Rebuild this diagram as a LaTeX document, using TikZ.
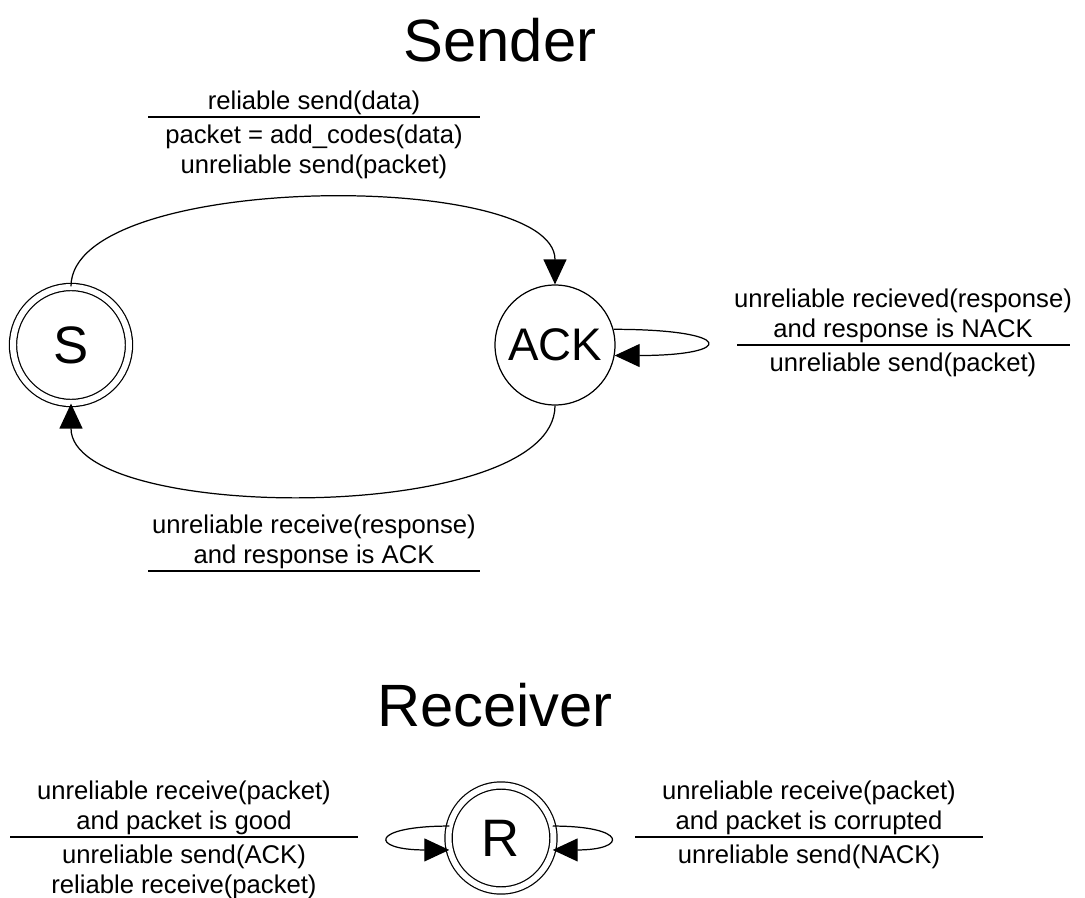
\documentclass[tikz,border=0pt]{standalone}
\usepackage{fontspec}
\setmainfont{Liberation Sans}
\usetikzlibrary{arrows.meta}

\tikzset{
	state/.style={draw, circle, line width=0.7pt, inner sep=0pt},
	accept/.style={state, double, double distance=3.4pt},
	lbl/.style={font=\fontsize{14.6}{17}\selectfont, align=center, inner xsep=0pt},
	evt/.style={lbl, anchor=south, inner ysep=1pt},
	act/.style={lbl, anchor=north, inner ysep=4.5pt},
	ttl/.style={font=\fontsize{34}{40}\selectfont},
	blk/.style={-{Triangle[length=0.5cm, width=0.46cm]}, line width=0.7pt},
	rule/.style={line width=0.7pt}
}

\begin{document}
\begin{tikzpicture}[x=0.02cm, y=-0.02cm]
			%%%%% START %%%%%
			
			\useasboundingbox (0,0) rectangle (1085,898);
			
			\node[ttl] (sendtitle) at (500,40) {Sender};
			
			\node[accept, minimum size=2.32cm, font=\fontsize{30}{36}\selectfont] (S) at (71,345) {S};
			\node[state, minimum size=2.4cm, font=\fontsize{26}{30}\selectfont] (ACK) at (555,345) {ACK};
			
			\draw[blk] (S.north) .. controls +(0,-115) and +(0,-115) .. (ACK.north);
			\draw[blk] (ACK.south) .. controls +(0,120) and +(0,120) .. (S.south);
			\draw[blk] (ACK.15) .. controls +(122,0) and +(122,0) .. (ACK.-10);
			
			\node[evt] (sendevt) at (314,117) {reliable send(data)};
			\draw[rule] (sendevt.south) ++(-166,0) -- ++(332,0);
			\node[act] (sendact) at (sendevt.south) {packet = add\_codes(data)\\unreliable send(packet)};
			
			\node[evt] (nackevt) at (903,345) {unreliable recieved(response)\\and response is NACK};
			\draw[rule] (nackevt.south) ++(-166,0) -- ++(333,0);
			\node[act] (nackact) at (nackevt.south) {unreliable send(packet)};
			
			\node[evt] (ackevt) at (314,571) {unreliable receive(response)\\and response is ACK};
			\draw[rule] (ackevt.south) ++(-166,0) -- ++(332,0);
			
			\node[ttl] (recvtitle) at (495,705) {Receiver};
			
			\node[accept, minimum size=2.1cm, font=\fontsize{30}{36}\selectfont] (R) at (501,838) {R};
			
			\draw[blk] (R.167) .. controls +(-80,0) and +(-80,0) .. (R.193);
			\draw[blk] (R.13) .. controls +(75,0) and +(75,0) .. (R.-13);
			
			\node[evt] (goodevt) at (184,837) {unreliable receive(packet)\\and packet is good};
			\draw[rule] (goodevt.south) ++(-174,0) -- ++(348,0);
			\node[act] (goodact) at (goodevt.south) {unreliable send(ACK)\\reliable receive(packet)};
			
			\node[evt] (badevt) at (809,837) {unreliable receive(packet)\\and packet is corrupted};
			\draw[rule] (badevt.south) ++(-174,0) -- ++(348,0);
			\node[act] (badact) at (badevt.south) {unreliable send(NACK)};
			
			%%%%% END %%%%%
\end{tikzpicture}
\end{document}
